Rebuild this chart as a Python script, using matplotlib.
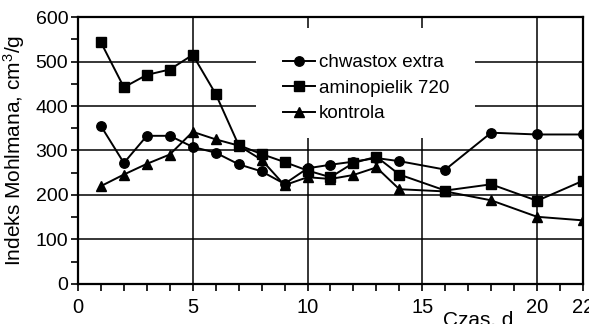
import matplotlib
matplotlib.use("Agg")
import matplotlib.pyplot as plt
from matplotlib.patches import Rectangle
from matplotlib.ticker import MultipleLocator, FixedLocator

plt.rcParams['font.family'] = ['Liberation Sans', 'DejaVu Sans']
plt.rcParams['mathtext.default'] = 'regular'

# days of measurement
days = [1, 2, 3, 4, 5, 6, 7, 8, 9, 10, 11, 12, 13, 14, 16, 18, 20, 22]

# Mohlman index, cm3/g
chwastox = [355, 272, 333, 333, 308, 295, 269, 253, 225, 260, 268, 275, 283, 276, 257, 340, 336, 336]
aminopielik = [543, 442, 470, 482, 515, 427, 312, 292, 274, 255, 240, 272, 286, 246, 210, 224, 187, 232]
kontrola = [220, 246, 270, 291, 342, 325, 311, 279, 222, 240, 236, 245, 262, 213, 208, 188, 151, 143]

labels = ['chwastox extra', 'aminopielik 720', 'kontrola']

fig = plt.figure(figsize=(5.89, 3.24), dpi=100)
ax = fig.add_axes([0.1324, 0.1235, 0.8574, 0.824])

# series
ax.plot(days, chwastox, color='black', lw=1.4, marker='o', ms=6.8, label=labels[0], zorder=3)
ax.plot(days, aminopielik, color='black', lw=1.4, marker='s', ms=6.5, label=labels[1], zorder=3)
ax.plot(days, kontrola, color='black', lw=1.4, marker='^', ms=7.5, label=labels[2], zorder=3)

ax.set_xlim(0, 22)
ax.set_ylim(0, 600)

ax.xaxis.set_major_locator(FixedLocator([0, 5, 10, 15, 20, 22]))
ax.xaxis.set_minor_locator(MultipleLocator(1))
ax.yaxis.set_major_locator(MultipleLocator(100))
ax.yaxis.set_minor_locator(MultipleLocator(50))

ax.tick_params(which='both', direction='out', length=5, width=1.2, colors='black')
ax.tick_params(axis='both', which='major', labelsize=14, pad=2)
ax.tick_params(axis='x', which='major', labelsize=14.5, pad=5)

ax.set_axisbelow(True)
ax.grid(True, which='major', color='black', lw=1.1)

for s in ax.spines.values():
    s.set_linewidth(1.6)

# white box behind legend hides the grid
ax.add_patch(Rectangle((0.352, 0.547), 0.434, 0.41, transform=ax.transAxes,
                       facecolor='white', edgecolor='none', zorder=1))

ax.legend(loc='upper left', bbox_to_anchor=(0.406, 0.861), frameon=False,
          fontsize=13.5, handlelength=1.7, handletextpad=0.2, labelspacing=0.45,
          borderpad=0, borderaxespad=0, numpoints=1)

ax.set_ylabel('Indeks Mohlmana, cm$^3$/g', fontsize=15)
ax.yaxis.set_label_coords(-0.101, 0.5)

# x label sits low, partly below the figure edge as in the original
fig.text(478 / 589, 1 - 326 / 324, 'Czas, d', fontsize=15, ha='center', va='baseline')

fig.savefig('out.png', dpi=100)
